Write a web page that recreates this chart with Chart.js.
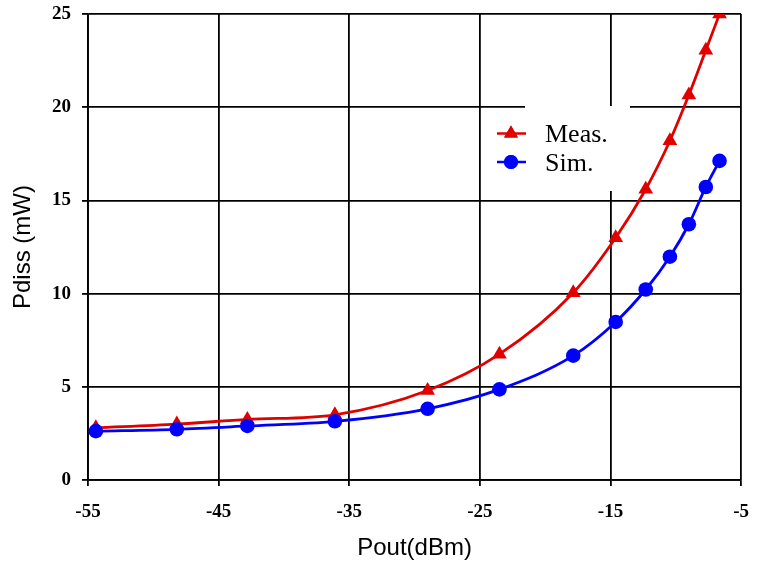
<!DOCTYPE html>
<html>
<head>
<meta charset="utf-8">
<script src="https://cdn.jsdelivr.net/npm/chart.js@4"></script>
<style>
  html, body { margin: 0; padding: 0; background: #fff; overflow: hidden; }
  #wrap { width: 760px; height: 562px; overflow: hidden; }
  /* canvas is a few px wider than the window so the "-5" label hangs off the edge like the original */
  #chart { display: block; }
</style>
</head>
<body>
<div id="wrap"><canvas id="chart" width="764" height="562"></canvas></div>
<script>
// Output power (dBm) shared by both curves
const poutValues = [-54.4, -48.2, -42.8, -36.1, -29.0, -23.5, -17.85, -14.6, -12.3, -10.45, -9.0, -7.7, -6.65];
// Dissipated power (mW)
const measValues = [2.8, 3.0, 3.25, 3.5, 4.8, 6.75, 10.05, 13.0, 15.6, 18.2, 20.65, 23.05, 25.0];
const simValues = [2.62, 2.72, 2.9, 3.15, 3.82, 4.86, 6.67, 8.48, 10.22, 11.98, 13.72, 15.72, 17.12];
const xTicks = [-55, -45, -35, -25, -15, -5];
const yTicks = [0, 5, 10, 15, 20, 25];

const RED = '#e00000';
const BLUE = '#0000ff';

function toPoints(ys) {
    return poutValues.map((x, i) => ({ x: x, y: ys[i] }));
}

// white legend box sitting over the grid
const legendBox = {
    id: 'legendBox',
    beforeDatasetsDraw(chart) {
        const ctx = chart.ctx;
        ctx.save();
        ctx.fillStyle = '#fff';
        ctx.fillRect(525, 106, 105, 85);
        const items = [
            { label: 'Meas.', color: RED, style: 'triangle', y: 133.5, r: 8 },
            { label: 'Sim.', color: BLUE, style: 'circle', y: 162, r: 7 }
        ];
        items.forEach(it => {
            ctx.strokeStyle = it.color;
            ctx.lineWidth = 2.5;
            ctx.beginPath();
            ctx.moveTo(497, it.y);
            ctx.lineTo(526, it.y);
            ctx.stroke();
            ctx.fillStyle = it.color;
            Chart.helpers.drawPoint(ctx, { pointStyle: it.style, radius: it.r, borderWidth: 0 }, 511, it.y);
            ctx.fill();
            ctx.fillStyle = '#000';
            ctx.font = "26px 'Liberation Serif'";
            ctx.textBaseline = 'middle';
            ctx.textAlign = 'left';
            ctx.fillText(it.label, 545, it.y + 2);
        });
        ctx.restore();
    }
};

const tickFont = { family: "'Liberation Serif'", size: 19, weight: 'bold' };
const titleFont = { family: "'Liberation Sans'", size: 24, lineHeight: 1 };

new Chart(document.getElementById('chart').getContext('2d'), {
    type: 'line',
    data: {
        datasets: [
            {
                label: 'Meas.',
                data: toPoints(measValues),
                borderColor: RED,
                backgroundColor: RED,
                borderWidth: 2.8,
                pointStyle: 'triangle',
                pointRadius: 8.5,
                pointBorderWidth: 0,
                cubicInterpolationMode: 'monotone',
                order: 1
            },
            {
                label: 'Sim.',
                data: toPoints(simValues),
                borderColor: BLUE,
                backgroundColor: BLUE,
                borderWidth: 2.8,
                pointStyle: 'circle',
                pointRadius: 7.3,
                pointBorderWidth: 0,
                cubicInterpolationMode: 'monotone',
                order: 0
            }
        ]
    },
    options: {
        responsive: false,
        animation: false,
        layout: { padding: { top: 14, right: 0, left: 0, bottom: 0 } },
        plugins: {
            legend: { display: false },
            tooltip: { enabled: false }
        },
        scales: {
            x: {
                type: 'linear',
                min: -55,
                max: -5,
                afterBuildTicks: scale => { scale.ticks = xTicks.map(v => ({ value: v })); },
                afterFit: scale => {
                    scale.height = 82;
                    scale.paddingLeft = 0;
                },
                grid: { color: '#000', lineWidth: 1.8, tickLength: 6 },
                border: { color: '#000', width: 1.8 },
                ticks: { color: '#000', font: tickFont, padding: 15, maxRotation: 0 },
                title: {
                    display: true,
                    text: 'Pout(dBm)',
                    color: '#000',
                    font: titleFont,
                    padding: { top: 0, bottom: 2 }
                }
            },
            y: {
                min: 0,
                max: 25,
                afterBuildTicks: scale => { scale.ticks = yTicks.map(v => ({ value: v })); },
                afterFit: scale => {
                    scale.width = 88;
                    scale.paddingTop = 0;
                    scale.paddingBottom = 0;
                },
                grid: { color: '#000', lineWidth: 1.8, tickLength: 6 },
                border: { color: '#000', width: 1.8 },
                ticks: { color: '#000', font: tickFont, padding: 11 },
                title: {
                    display: true,
                    text: 'Pdiss (mW)',
                    color: '#000',
                    font: titleFont,
                    padding: { top: 11, bottom: 0 }
                }
            }
        }
    },
    plugins: [legendBox]
});
</script>
</body>
</html>
